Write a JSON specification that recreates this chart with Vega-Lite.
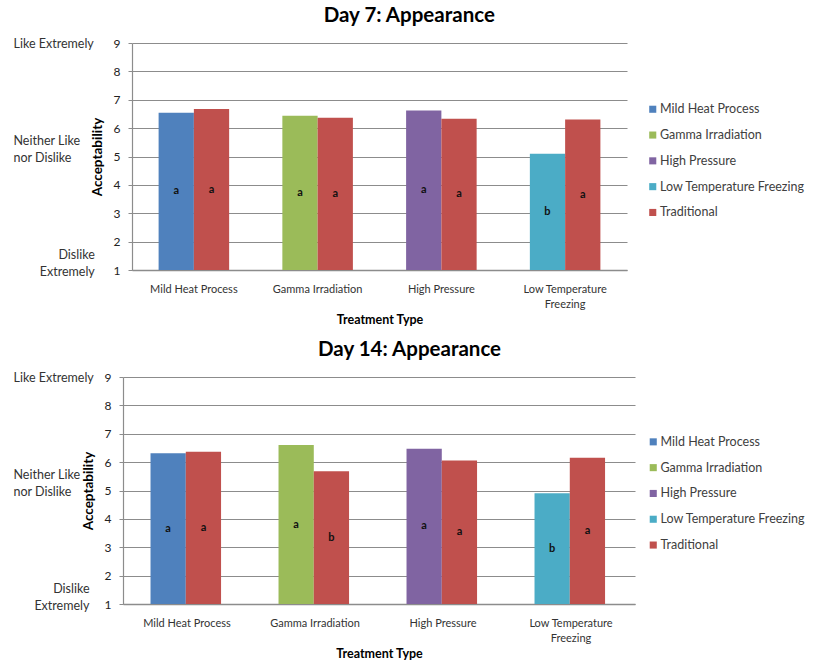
{
  "$schema": "https://vega.github.io/schema/vega-lite/v6.json",
  "background": "white",
  "padding": {"left": 12, "top": 5, "right": 0, "bottom": 0},
  "columns": 2,
  "align": "none",
  "spacing": {"row": 13, "column": 0},
  "config": {
    "font": "Lato",
    "view": {"stroke": null},
    "title": {"font": "Lato", "fontSize": 20.5, "fontWeight": "bold", "color": "#000000", "anchor": "middle", "frame": "bounds", "offset": 11}
  },
  "resolve": {"scale": {"color": "independent"}, "legend": {"color": "independent"}},
  "datasets": {
    "day7": [
      {"treatment": "Mild Heat Process", "slot": "Treatment", "series": "Mild Heat Process", "score": 6.54, "letter": "a"},
      {"treatment": "Mild Heat Process", "slot": "Traditional", "series": "Traditional", "score": 6.67, "letter": "a"},
      {"treatment": "Gamma Irradiation", "slot": "Treatment", "series": "Gamma Irradiation", "score": 6.44, "letter": "a"},
      {"treatment": "Gamma Irradiation", "slot": "Traditional", "series": "Traditional", "score": 6.37, "letter": "a"},
      {"treatment": "High Pressure", "slot": "Treatment", "series": "High Pressure", "score": 6.62, "letter": "a"},
      {"treatment": "High Pressure", "slot": "Traditional", "series": "Traditional", "score": 6.33, "letter": "a"},
      {"treatment": "Low Temperature Freezing", "slot": "Treatment", "series": "Low Temperature Freezing", "score": 5.10, "letter": "b"},
      {"treatment": "Low Temperature Freezing", "slot": "Traditional", "series": "Traditional", "score": 6.30, "letter": "a"}
    ],
    "day14": [
      {"treatment": "Mild Heat Process", "slot": "Treatment", "series": "Mild Heat Process", "score": 6.31, "letter": "a"},
      {"treatment": "Mild Heat Process", "slot": "Traditional", "series": "Traditional", "score": 6.37, "letter": "a"},
      {"treatment": "Gamma Irradiation", "slot": "Treatment", "series": "Gamma Irradiation", "score": 6.60, "letter": "a"},
      {"treatment": "Gamma Irradiation", "slot": "Traditional", "series": "Traditional", "score": 5.68, "letter": "b"},
      {"treatment": "High Pressure", "slot": "Treatment", "series": "High Pressure", "score": 6.47, "letter": "a"},
      {"treatment": "High Pressure", "slot": "Traditional", "series": "Traditional", "score": 6.06, "letter": "a"},
      {"treatment": "Low Temperature Freezing", "slot": "Treatment", "series": "Low Temperature Freezing", "score": 4.90, "letter": "b"},
      {"treatment": "Low Temperature Freezing", "slot": "Traditional", "series": "Traditional", "score": 6.15, "letter": "a"}
    ],
    "empty": []
  },
  "concat": [
    {"width": 1, "height": 1, "data": {"name": "empty"}, "mark": "point"},
    {
      "width": 495,
      "height": 227,
      "data": {"name": "day7"},
      "title": {"text": "Day 7: Appearance"},
      "resolve": {"axis": {"y": "independent"}},
      "encoding": {
        "x": {
          "field": "treatment", "type": "nominal",
          "sort": ["Mild Heat Process", "Gamma Irradiation", "High Pressure", "Low Temperature Freezing"],
          "scale": {"paddingInner": 0.43, "paddingOuter": 0.215},
          "axis": {
            "title": "Treatment Type", "titleFontSize": 12.5, "titleFontWeight": "bold", "titleColor": "#000000", "titlePadding": 4,
            "labelAngle": 0, "labelFontSize": 11, "labelColor": "#333333", "labelPadding": 13, "labelLineHeight": 15,
            "labelExpr": "datum.label == 'Low Temperature Freezing' ? ['Low Temperature', 'Freezing'] : datum.label",
            "ticks": false, "domain": true, "domainColor": "#8c8c8c", "domainWidth": 1.5
          }
        },
        "xOffset": {"field": "slot", "type": "nominal", "sort": ["Treatment", "Traditional"], "scale": {"paddingInner": 0, "paddingOuter": 0}}
      },
      "layer": [
        {
          "mark": {"type": "bar"},
          "encoding": {
            "y": {
              "field": "score", "type": "quantitative",
              "scale": {"domain": [1, 9], "zero": false, "nice": false},
              "axis": {
                "values": [1, 2, 3, 4, 5, 6, 7, 8, 9], "format": "d",
                "grid": true, "gridColor": "#8c8c8c", "gridWidth": 1.2,
                "domainColor": "#8c8c8c", "domainWidth": 1.2,
                "tickColor": "#8c8c8c", "tickSize": 4,
                "labelFontSize": 12, "labelColor": "#222222", "labelPadding": 8,
                "title": "Acceptability", "titleFontSize": 13.5, "titleFontWeight": "bold", "titleColor": "#000000", "titlePadding": 9
              }
            },
            "y2": {"datum": 1},
            "color": {
              "field": "series", "type": "nominal",
              "scale": {
                "domain": ["Mild Heat Process", "Gamma Irradiation", "High Pressure", "Low Temperature Freezing", "Traditional"],
                "range": ["#4F81BD", "#9BBB59", "#8064A2", "#4BACC6", "#C0504D"]
              },
              "legend": {
                "title": null, "orient": "none", "legendX": 514.5, "legendY": 60,
                "symbolType": "square", "symbolSize": 50, "symbolStrokeWidth": 0,
                "labelFontSize": 12.5, "labelColor": "#404040", "labelOffset": 1, "rowPadding": 12.8
              }
            }
          }
        },
        {
          "transform": [{"calculate": "(datum.score + 1) / 2", "as": "mid"}],
          "mark": {"type": "text", "fontWeight": "bold", "fontSize": 11, "color": "#111111"},
          "encoding": {
            "y": {
              "field": "mid", "type": "quantitative",
              "scale": {"domain": [1, 9], "zero": false, "nice": false},
              "axis": {
                "orient": "left", "values": [9, 5.56, 1.53], "title": null,
                "labelExpr": "datum.value > 8 ? 'Like Extremely' : datum.value > 4 ? ['Neither Like', 'nor Dislike'] : ['Dislike', 'Extremely']",
                "ticks": false, "domain": false, "grid": false,
                "labelAlign": {"condition": {"test": "datum.value > 4", "value": "left"}, "value": "right"},
                "labelPadding": {"condition": {"test": "datum.value > 4", "value": 119}, "value": 37.7},
                "labelBaseline": "middle", "labelLineHeight": 16.5, "labelFontSize": 12.5, "labelColor": "#333333",
                "labelOverlap": false, "labelFlush": false, "labelBound": false, "labelLimit": 300
              }
            },
            "text": {"field": "letter"}
          }
        }
      ]
    },
    {"width": 1, "height": 1, "data": {"name": "empty"}, "mark": "point"},
    {
      "width": 512,
      "height": 227,
      "data": {"name": "day14"},
      "title": {"text": "Day 14: Appearance"},
      "resolve": {"axis": {"y": "independent"}},
      "encoding": {
        "x": {
          "field": "treatment", "type": "nominal",
          "sort": ["Mild Heat Process", "Gamma Irradiation", "High Pressure", "Low Temperature Freezing"],
          "scale": {"paddingInner": 0.43, "paddingOuter": 0.215},
          "axis": {
            "title": "Treatment Type", "titleFontSize": 12.5, "titleFontWeight": "bold", "titleColor": "#000000", "titlePadding": 4,
            "labelAngle": 0, "labelFontSize": 11, "labelColor": "#333333", "labelPadding": 13, "labelLineHeight": 15,
            "labelExpr": "datum.label == 'Low Temperature Freezing' ? ['Low Temperature', 'Freezing'] : datum.label",
            "ticks": false, "domain": true, "domainColor": "#8c8c8c", "domainWidth": 1.5
          }
        },
        "xOffset": {"field": "slot", "type": "nominal", "sort": ["Treatment", "Traditional"], "scale": {"paddingInner": 0, "paddingOuter": 0}}
      },
      "layer": [
        {
          "mark": {"type": "bar"},
          "encoding": {
            "y": {
              "field": "score", "type": "quantitative",
              "scale": {"domain": [1, 9], "zero": false, "nice": false},
              "axis": {
                "values": [1, 2, 3, 4, 5, 6, 7, 8, 9], "format": "d",
                "grid": true, "gridColor": "#8c8c8c", "gridWidth": 1.2,
                "domainColor": "#8c8c8c", "domainWidth": 1.2,
                "tickColor": "#8c8c8c", "tickSize": 4,
                "labelFontSize": 12, "labelColor": "#222222", "labelPadding": 8,
                "title": "Acceptability", "titleFontSize": 13.5, "titleFontWeight": "bold", "titleColor": "#000000", "titlePadding": 9
              }
            },
            "y2": {"datum": 1},
            "color": {
              "field": "series", "type": "nominal",
              "scale": {
                "domain": ["Mild Heat Process", "Gamma Irradiation", "High Pressure", "Low Temperature Freezing", "Traditional"],
                "range": ["#4F81BD", "#9BBB59", "#8064A2", "#4BACC6", "#C0504D"]
              },
              "legend": {
                "title": null, "orient": "none", "legendX": 524, "legendY": 58.6,
                "symbolType": "square", "symbolSize": 50, "symbolStrokeWidth": 0,
                "labelFontSize": 12.5, "labelColor": "#404040", "labelOffset": 1, "rowPadding": 12.8
              }
            }
          }
        },
        {
          "transform": [{"calculate": "(datum.score + 1) / 2", "as": "mid"}],
          "mark": {"type": "text", "fontWeight": "bold", "fontSize": 11, "color": "#111111"},
          "encoding": {
            "y": {
              "field": "mid", "type": "quantitative",
              "scale": {"domain": [1, 9], "zero": false, "nice": false},
              "axis": {
                "orient": "left", "values": [9, 5.56, 1.53], "title": null,
                "labelExpr": "datum.value > 8 ? 'Like Extremely' : datum.value > 4 ? ['Neither Like', 'nor Dislike'] : ['Dislike', 'Extremely']",
                "ticks": false, "domain": false, "grid": false,
                "labelAlign": {"condition": {"test": "datum.value > 4", "value": "left"}, "value": "right"},
                "labelPadding": {"condition": {"test": "datum.value > 4", "value": 110}, "value": 34},
                "labelBaseline": "middle", "labelLineHeight": 16.5, "labelFontSize": 12.5, "labelColor": "#333333",
                "labelOverlap": false, "labelFlush": false, "labelBound": false, "labelLimit": 300
              }
            },
            "text": {"field": "letter"}
          }
        }
      ]
    }
  ]
}
